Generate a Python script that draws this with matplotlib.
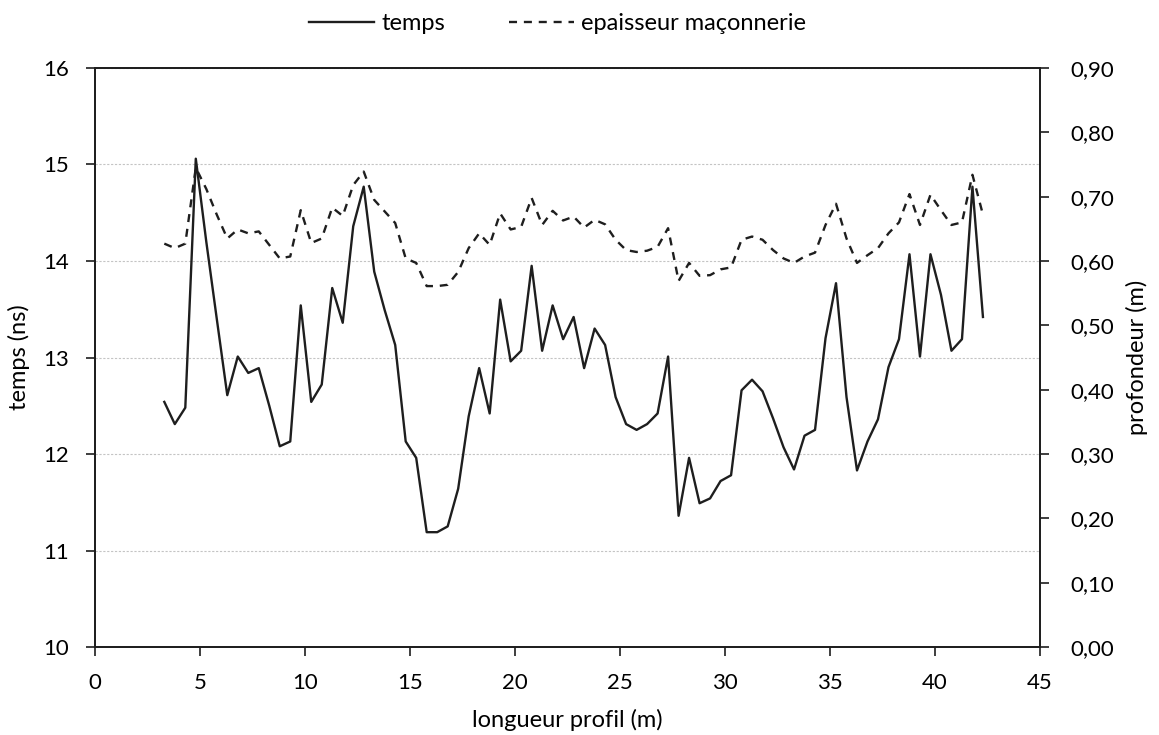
import numpy as np
import matplotlib.pyplot as plt
from matplotlib.ticker import FuncFormatter

# distance along profile (m)
x = [3.3, 3.8, 4.3, 4.8, 5.3, 5.8, 6.3, 6.8, 7.3, 7.8,
     8.3, 8.8, 9.3, 9.8, 10.3, 10.8, 11.3, 11.8, 12.3, 12.8,
     13.3, 13.8, 14.3, 14.8, 15.3, 15.8, 16.3, 16.8, 17.3, 17.8,
     18.3, 18.8, 19.3, 19.8, 20.3, 20.8, 21.3, 21.8, 22.3, 22.8,
     23.3, 23.8, 24.3, 24.8, 25.3, 25.8, 26.3, 26.8, 27.3, 27.8,
     28.3, 28.8, 29.3, 29.8, 30.3, 30.8, 31.3, 31.8, 32.3, 32.8,
     33.3, 33.8, 34.3, 34.8, 35.3, 35.8, 36.3, 36.8, 37.3, 37.8,
     38.3, 38.8, 39.3, 39.8, 40.3, 40.8, 41.3, 41.8, 42.3]

# two-way time (ns)
temps = [12.54, 12.31, 12.48, 15.06, 14.20, 13.40, 12.61, 13.01, 12.84, 12.89,
         12.50, 12.08, 12.13, 13.54, 12.54, 12.72, 13.72, 13.36, 14.36, 14.77,
         13.89, 13.49, 13.13, 12.13, 11.96, 11.19, 11.19, 11.25, 11.64, 12.39,
         12.89, 12.42, 13.60, 12.96, 13.07, 13.95, 13.07, 13.54, 13.19, 13.42,
         12.89, 13.30, 13.13, 12.59, 12.31, 12.25, 12.31, 12.42, 13.01, 11.36,
         11.96, 11.49, 11.54, 11.72, 11.78, 12.66, 12.77, 12.65, 12.37, 12.07,
         11.84, 12.19, 12.25, 13.20, 13.77, 12.59, 11.83, 12.13, 12.36, 12.90,
         13.19, 14.07, 13.01, 14.07, 13.65, 13.07, 13.19, 14.77, 13.42]

# masonry thickness (m)
epaisseur = [0.627, 0.620, 0.627, 0.745, 0.712, 0.672, 0.635, 0.649, 0.643, 0.646,
             0.625, 0.604, 0.607, 0.679, 0.628, 0.635, 0.683, 0.670, 0.718, 0.739,
             0.695, 0.677, 0.659, 0.604, 0.597, 0.561, 0.561, 0.563, 0.583, 0.620,
             0.643, 0.625, 0.674, 0.649, 0.653, 0.698, 0.656, 0.678, 0.663, 0.669,
             0.652, 0.664, 0.657, 0.633, 0.617, 0.614, 0.616, 0.622, 0.651, 0.569,
             0.597, 0.577, 0.578, 0.587, 0.590, 0.633, 0.638, 0.633, 0.617, 0.604,
             0.597, 0.607, 0.613, 0.656, 0.689, 0.635, 0.597, 0.609, 0.620, 0.643,
             0.660, 0.704, 0.656, 0.703, 0.679, 0.656, 0.660, 0.734, 0.672]

x_ticks = [0, 5, 10, 15, 20, 25, 30, 35, 40, 45]
left_ticks = [10, 11, 12, 13, 14, 15, 16]
right_ticks = [0.0, 0.1, 0.2, 0.3, 0.4, 0.5, 0.6, 0.7, 0.8, 0.9]

plt.rcParams['font.family'] = ['Lato', 'DejaVu Sans']
fs = 16
fl = 17

fig = plt.figure(figsize=(11.59, 7.35), dpi=100)
ax = fig.add_axes([0.082, 0.1197, 0.815, 0.7878])
ax2 = ax.twinx()

col = "#1e1e1e"
l1, = ax.plot(x, temps, color=col, lw=1.7, label="temps")
l2, = ax2.plot(x, epaisseur, color=col, lw=1.7, ls=(0, (3.4, 2.9)), label="epaisseur maçonnerie")

ax.set_xlim(0, 45)
ax.set_ylim(10, 16)
ax2.set_ylim(0, 0.9)
ax.set_xticks(x_ticks)
ax.set_yticks(left_ticks)
ax2.set_yticks(right_ticks)
ax2.yaxis.set_major_formatter(FuncFormatter(lambda v, p: f"{v:.2f}".replace(".", ",")))

ax.grid(axis="y", color="#c4c4c4", ls=(0, (2, 1.5)), lw=0.8)
ax.set_axisbelow(True)

for a in (ax, ax2):
    for s in a.spines.values():
        s.set_color(col)
        s.set_linewidth(1.3)
    a.tick_params(direction="out", length=6.5, width=1.2, color=col, labelsize=fs)
ax.tick_params(axis="x", pad=12)
ax.tick_params(axis="y", pad=12)
ax2.tick_params(axis="y", pad=16)

ax.set_xlabel("longueur profil (m)", fontsize=fl, labelpad=12)
ax.set_ylabel("temps (ns)", fontsize=fl, labelpad=10)
ax2.set_ylabel("profondeur (m)", fontsize=fl, labelpad=8)

fig.legend([l1, l2], ["temps", "epaisseur maçonnerie"], loc="center", bbox_to_anchor=(0.481, 0.968),
           ncol=2, frameon=False, fontsize=fl, handlelength=2.75, handletextpad=0.3, columnspacing=2.7)

fig.savefig("out.png", dpi=100)
